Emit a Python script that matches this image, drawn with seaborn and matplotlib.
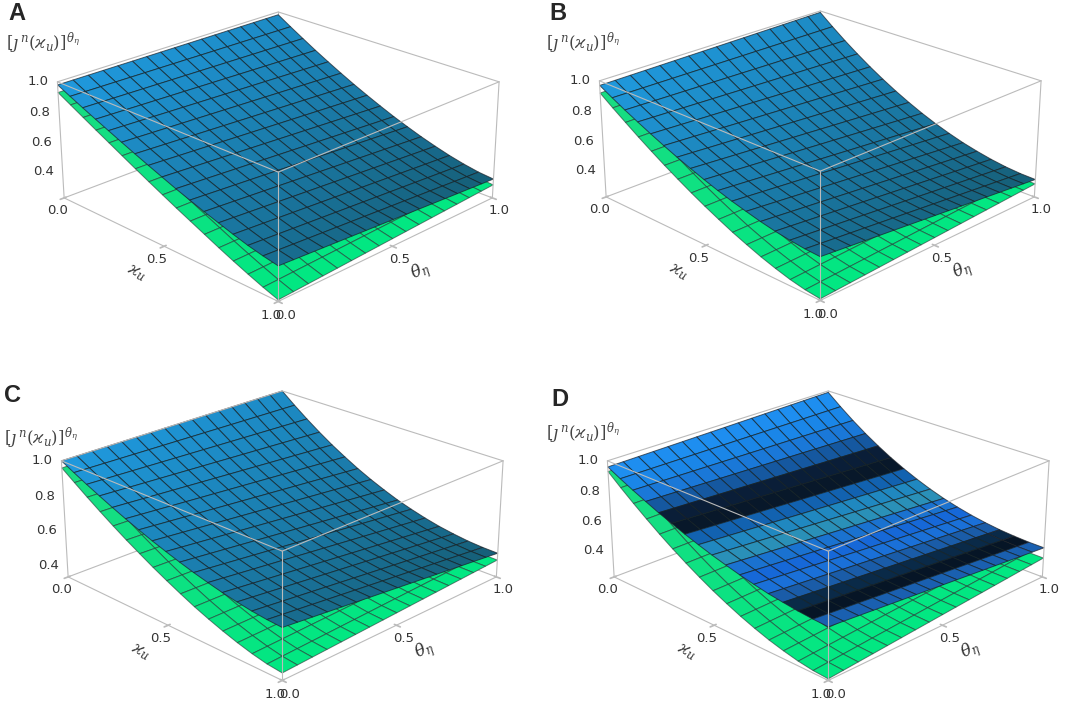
import numpy as np
import matplotlib
matplotlib.use("Agg")
import matplotlib.pyplot as plt
from matplotlib.colors import to_rgba
import seaborn as sns

# grid positions (Mathematica default mesh: 16 cells per side)
nu = np.linspace(0, 1, 17)
theta = np.linspace(0, 1, 17)

# surface heights read along nu_u at theta_eta = 0 and theta_eta = 1
a_blue_t0 = [.980, .938, .897, .857, .818, .779, .741, .704, .668, .632, .599, .567, .537, .507, .480, .458, .440]
a_blue_t1 = [.980, .922, .866, .811, .759, .709, .661, .616, .573, .532, .495, .460, .429, .401, .378, .360, .350]
a_green_t0 = [.930, .882, .834, .786, .739, .692, .645, .599, .554, .509, .466, .423, .380, .339, .300, .263, .230]
a_green_t1 = [.960, .900, .842, .786, .732, .681, .631, .584, .540, .498, .459, .424, .391, .363, .339, .320, .310]

b_blue_t0 = [.970, .922, .876, .833, .791, .751, .713, .678, .645, .614, .586, .562, .539, .520, .506, .495, .490]
b_blue_t1 = [.990, .915, .844, .778, .716, .659, .606, .558, .514, .475, .441, .411, .387, .367, .352, .343, .340]
b_green_t0 = [.920, .856, .795, .735, .678, .623, .571, .521, .474, .430, .388, .351, .316, .286, .260, .241, .230]
b_green_t1 = [.970, .890, .815, .746, .681, .622, .568, .519, .475, .436, .403, .374, .351, .333, .320, .313, .310]

c_blue_t0 = [1.00, .962, .925, .890, .856, .824, .794, .765, .739, .714, .691, .671, .652, .637, .624, .615, .610]
c_blue_t1 = [1.00, .936, .876, .820, .768, .721, .677, .638, .603, .571, .545, .522, .503, .489, .478, .472, .470]
c_green_t0 = [.960, .906, .853, .802, .753, .706, .662, .619, .579, .541, .505, .473, .444, .418, .396, .379, .370]
c_green_t1 = [.980, .907, .840, .778, .722, .671, .626, .585, .550, .519, .494, .473, .456, .444, .436, .431, .430]

d_blue_t0 = [.960, .916, .875, .836, .798, .765, .732, .702, .674, .649, .626, .606, .588, .575, .563, .555, .550]
d_blue_t1 = [.990, .915, .845, .781, .723, .670, .623, .581, .544, .512, .486, .464, .447, .434, .426, .421, .420]
d_green_t0 = [.930, .857, .788, .722, .659, .600, .545, .493, .445, .402, .362, .327, .296, .271, .250, .236, .230]
d_green_t1 = [.980, .893, .813, .741, .675, .616, .564, .518, .478, .444, .416, .393, .376, .363, .355, .351, .350]

# colour bands of panel D along nu_u (one per mesh row)
d_bands = ["#1e8ef0", "#1a86e8", "#1a78d8", "#1558a0", "#0a1e38", "#08182a", "#1262b0", "#2088c0",
           "#2a90b8", "#1a72d0", "#1668d8", "#1a70d8", "#1a5ca8", "#0a2a48", "#061526", "#1a60b0", "#1a60b0"]

z_lows = [0.22, 0.22, 0.33, 0.22]
z_ticks = [0.4, 0.6, 0.8, 1.0]
nu_ticks = [0.0, 0.5, 1.0]
theta_ticks = [0.0, 0.5, 1.0]
letters = ["A", "B", "C", "D"]

sns.set_theme(style="white")
plt.rcParams["mathtext.fontset"] = "dejavuserif"
plt.rcParams["font.family"] = ["DejaVu Sans"]

NU, TH = np.meshgrid(nu, theta, indexing="ij")


def surface(t0, t1):
    t0 = np.asarray(t0)[:, None]
    t1 = np.asarray(t1)[:, None]
    return t0 * (1 - TH) + t1 * TH


def blue_colors():
    light = np.array(to_rgba("#1f98dc"))
    dark = np.array(to_rgba("#165f78"))
    w = np.clip(0.8 * NU + 0.25 * TH, 0, 1)[..., None]
    return light * (1 - w) + dark * w


def green_colors():
    light = np.array(to_rgba("#18dc82"))
    dark = np.array(to_rgba("#00e882"))
    w = NU[..., None]
    return light * (1 - w) + dark * w


def band_colors(bands):
    rows = np.array([to_rgba(c) for c in bands])
    return np.repeat(rows[:, None, :], len(theta), axis=1)


def draw_box(ax, zlo):
    edge = dict(color="#bbbbbb", lw=0.8)
    back = [((0, 1, zlo), (0, 1, 1.0)), ((0, 0, zlo), (0, 1, zlo)), ((0, 1, zlo), (1, 1, zlo))]
    front = [((0, 0, zlo), (1, 0, zlo)), ((1, 0, zlo), (1, 1, zlo)),
             ((0, 0, zlo), (0, 0, 1.0)), ((1, 0, zlo), (1, 0, 1.0)), ((1, 1, zlo), (1, 1, 1.0)),
             ((0, 0, 1.0), (1, 0, 1.0)), ((1, 0, 1.0), (1, 1, 1.0)),
             ((1, 1, 1.0), (0, 1, 1.0)), ((0, 1, 1.0), (0, 0, 1.0))]
    for p, q in back:
        ax.plot([p[0], q[0]], [p[1], q[1]], [p[2], q[2]], zorder=1, **edge)
    for p, q in front:
        ax.plot([p[0], q[0]], [p[1], q[1]], [p[2], q[2]], zorder=5, **edge)


panels = [
    (a_blue_t0, a_blue_t1, a_green_t0, a_green_t1),
    (b_blue_t0, b_blue_t1, b_green_t0, b_green_t1),
    (c_blue_t0, c_blue_t1, c_green_t0, c_green_t1),
    (d_blue_t0, d_blue_t1, d_green_t0, d_green_t1),
]
W, H = 1072, 701
side = 536
centers = [(271, 148), (813, 147), (275, 527), (821, 527)]  # pixel centres of each box
letter_px = [(8, 14), (549, 14), (4, 395), (551, 400)]
zlabel_px = [(6, 43), (546, 43), (4, 438), (546, 433)]

fig = plt.figure(figsize=(W / 100, H / 100), dpi=100)
for k, (bt0, bt1, gt0, gt1) in enumerate(panels):
    cx, cy = centers[k]
    rect = [(cx - side / 2) / W, (H - cy - side / 2) / H, side / W, side / H]
    ax = fig.add_axes(rect, projection="3d")
    ax.set_facecolor((1, 1, 1, 0))
    ax.computed_zorder = False
    zlo = z_lows[k]
    green = surface(gt0, gt1)
    blue = surface(bt0, bt1)
    ax.plot_surface(NU, TH, green, facecolors=green_colors(), shade=False,
                    edgecolor=(0.15, 0.2, 0.2, 0.6), linewidth=0.7, zorder=2)
    fc = band_colors(d_bands) if k == 3 else blue_colors()
    ax.plot_surface(NU, TH, blue, facecolors=fc, shade=False,
                    edgecolor=(0.1, 0.12, 0.15, 0.7), linewidth=0.7, zorder=3)
    draw_box(ax, zlo)

    ax.set_xlim(0, 1)
    ax.set_ylim(0, 1)
    ax.set_zlim(zlo, 1.0)
    ax.set_xticks(nu_ticks)
    ax.set_yticks(theta_ticks)
    ax.set_zticks([])
    ax.set_xticklabels([f"{t:.1f}" for t in nu_ticks])
    ax.set_yticklabels([f"{t:.1f}" for t in theta_ticks])
    ax.tick_params(labelsize=9.5, color="#bbbbbb", labelcolor="#333333", pad=-2)
    ax.set_xlabel(r"$\varkappa_u$", fontsize=12, labelpad=2, color="#333333")
    ax.set_ylabel(r"$\theta_\eta$", fontsize=12, labelpad=2, color="#333333")
    for axis in (ax.xaxis, ax.yaxis, ax.zaxis):
        axis.set_pane_color((1, 1, 1, 0))
        axis.pane.set_edgecolor((1, 1, 1, 0))
        axis.line.set_color((0, 0, 0, 0))
        axis._axinfo["grid"]["linewidth"] = 0
    ax.grid(False)
    ax.view_init(elev=23, azim=-45)
    ax.set_proj_type("persp", focal_length=0.55)
    ax.set_box_aspect((1, 1, 0.41), zoom=0.82)
    for t in z_ticks:
        ax.text(-0.02, -0.02, t, f"{t:.1f}", ha="right", va="center", fontsize=9.5, color="#333333",
                zorder=6)
    fig.text(zlabel_px[k][0] / W, 1 - zlabel_px[k][1] / H,
             r"$[\jmath^{\,n}(\varkappa_u)]^{\theta_\eta}$", fontsize=12, color="#444444", va="center")
    fig.text(letter_px[k][0] / W, 1 - letter_px[k][1] / H, letters[k], fontsize=17, fontweight="bold",
             family=["Liberation Sans", "DejaVu Sans"], va="center")

fig.savefig("out.png", dpi=100, facecolor="white")
